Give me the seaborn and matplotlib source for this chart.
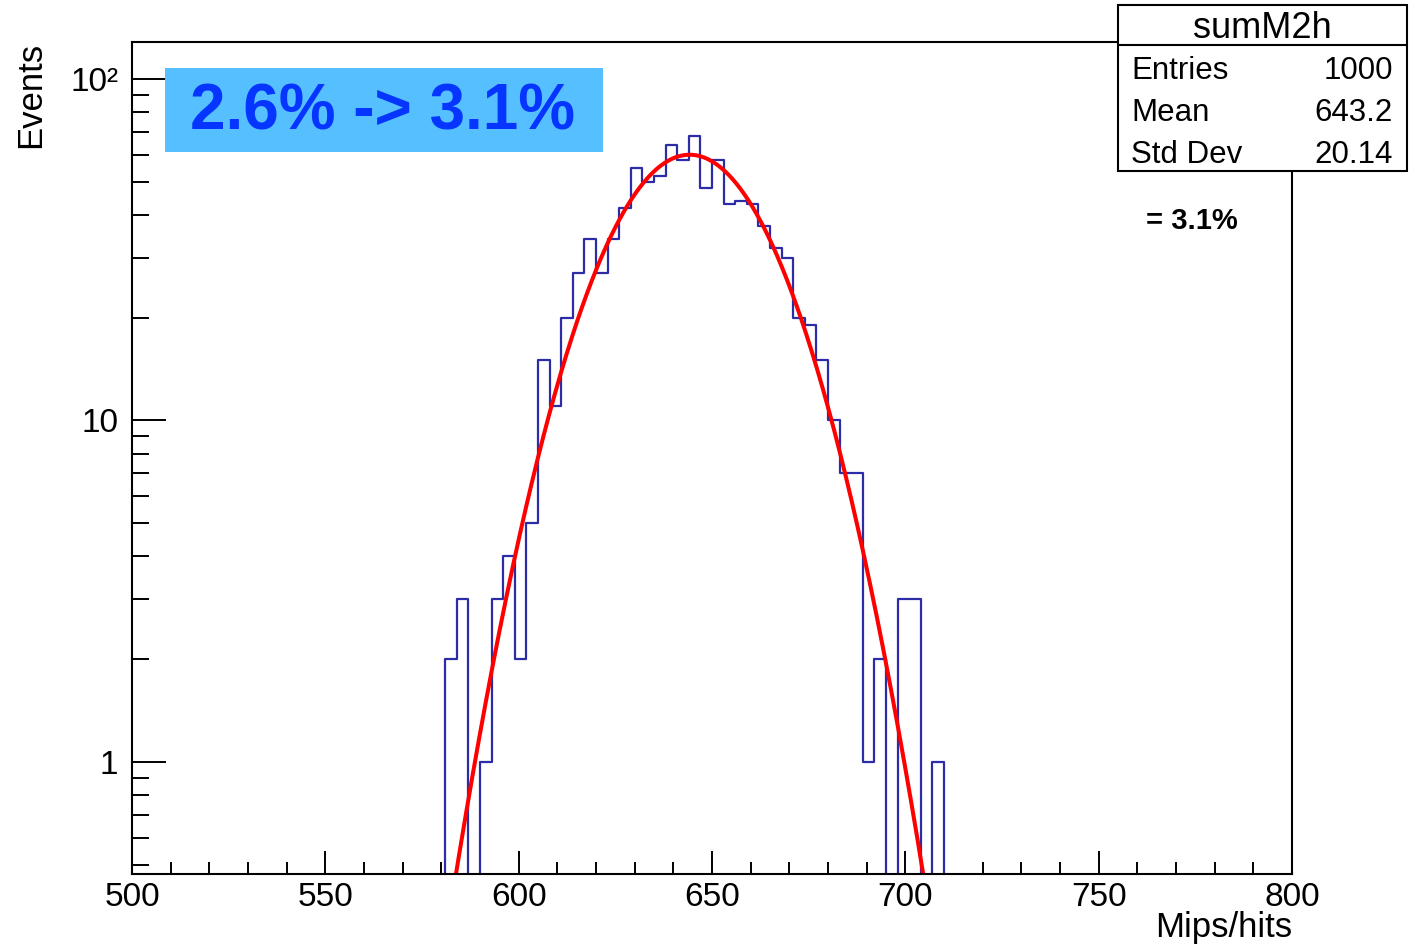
import numpy as np
import pandas as pd
import matplotlib
matplotlib.use("Agg")
import matplotlib.pyplot as plt
from matplotlib.patches import Rectangle
from matplotlib.lines import Line2D
from matplotlib.ticker import FixedLocator, FixedFormatter, MultipleLocator, LogLocator, NullFormatter
import seaborn as sns

# Histogram of summed mips per hit: 100 bins of width 3 from 500 to 800
bin_lo = 500.0
bin_hi = 800.0
n_bins = 100
first_filled_edge = 581.0
filled_counts = [
    2, 3, 0, 1, 3, 4, 2, 5, 15, 11,
    20, 27, 34, 27, 34, 42, 55, 50, 52, 64,
    58, 68, 48, 58, 43, 44, 43, 37, 32, 30,
    20, 19, 15, 10, 7, 7, 1, 2, 0, 3,
    3, 0, 1,
]

# Gaussian fit parameters
fit_const = 60.0
fit_mean = 644.2
fit_sigma = 19.4

# Statistics box
hist_name = "sumM2h"
stat_names = ["Entries", "Mean", "Std Dev"]
stat_values = ["1000", "643.2", "20.14"]
resolution_text = "= 3.1%"
banner_text = "2.6% -> 3.1%"

x_label = "Mips/hits"
y_label = "Events"
x_ticks = [500, 550, 600, 650, 700, 750, 800]
y_ticks = [1, 10, 100]
y_tick_labels = ["1", "10", "10²"]

# ---------------------------------------------------------------------------
edges = np.linspace(bin_lo, bin_hi, n_bins + 1)
width = edges[1] - edges[0]
counts = np.zeros(n_bins)
start = int(round((first_filled_edge - bin_lo) / width))
counts[start:start + len(filled_counts)] = filled_counts
centers = edges[:-1] + width / 2
hist_df = pd.DataFrame({"mips": centers, "n": counts})

xs = np.linspace(bin_lo, bin_hi, 1200)
fit_df = pd.DataFrame({"mips": xs,
                       "f": fit_const * np.exp(-0.5 * ((xs - fit_mean) / fit_sigma) ** 2)})

sns.set_style("ticks")
plt.rcParams["font.family"] = ["Liberation Sans", "DejaVu Sans"]
for key in ["text.color", "axes.labelcolor", "xtick.color", "ytick.color", "axes.edgecolor"]:
    plt.rcParams[key] = "black"

W, H = 1428, 948
fig = plt.figure(figsize=(W / 100, H / 100), dpi=100)
fig.patch.set_facecolor("white")

ax_l, ax_r, ax_t, ax_b = 132, 1292, 42, 874
ax = fig.add_axes([ax_l / W, 1 - ax_b / H, (ax_r - ax_l) / W, (ax_b - ax_t) / H])

sns.histplot(data=hist_df, x="mips", weights="n", binwidth=width, binrange=(bin_lo, bin_hi),
             element="step", fill=False, color="#2c2ca6", linewidth=1.6, ax=ax)

sns.lineplot(data=fit_df, x="mips", y="f", color="#ff0000", linewidth=2.9, ax=ax,
             estimator=None, sort=False)

ax.set_yscale("log")
ax.set_xlim(bin_lo, bin_hi)
ax.set_ylim(0.47, 128.3)

ax.xaxis.set_major_locator(FixedLocator(x_ticks))
ax.xaxis.set_minor_locator(MultipleLocator(10))
ax.yaxis.set_major_locator(FixedLocator(y_ticks))
ax.yaxis.set_major_formatter(FixedFormatter(y_tick_labels))
ax.yaxis.set_minor_locator(LogLocator(base=10, subs=np.arange(2, 10)))
ax.yaxis.set_minor_formatter(NullFormatter())

ax.tick_params(axis="both", which="both", direction="in", top=False, right=False,
               colors="black", width=1.4)
ax.tick_params(axis="x", which="major", length=16.5, pad=6, labelsize=24)
ax.tick_params(axis="x", which="minor", length=9)
ax.tick_params(axis="y", which="major", length=24.5, pad=10, labelsize=24)
ax.tick_params(axis="y", which="minor", length=12)

for s in ax.spines.values():
    s.set_linewidth(1.5)
    s.set_color("black")

ax.set_xlabel(x_label, fontsize=25, loc="right")
ax.xaxis.set_label_coords(1.0, -0.045)
ax.set_ylabel(y_label, fontsize=25, loc="top")
ax.yaxis.set_label_coords(-(ax_l - 47) / (ax_r - ax_l), 1.0)


def fx(px):
    return px / W


def fy(py):
    return 1 - py / H


# Statistics box
bx0, by0, bx1, by1 = 1118, 5, 1407, 171
fig.patches.append(Rectangle((fx(bx0), fy(by1)), fx(bx1) - fx(bx0), fy(by0) - fy(by1),
                             transform=fig.transFigure, facecolor="white",
                             edgecolor="black", linewidth=1.5, zorder=5))
fig.lines.append(Line2D([fx(bx0), fx(bx1)], [fy(45), fy(45)], transform=fig.transFigure,
                        color="black", linewidth=1.5, zorder=6))
fig.text(fx((bx0 + bx1) / 2), fy(28), hist_name, fontsize=26, ha="center", va="center", zorder=7)
for name, val, yc in zip(stat_names, stat_values, [71, 113, 155]):
    fig.text(fx(1131), fy(yc), name, fontsize=22.5, ha="left", va="center", zorder=7)
    fig.text(fx(1393), fy(yc), val, fontsize=22.5, ha="right", va="center", zorder=7)

fig.text(fx(1146), fy(221), resolution_text, fontsize=21, fontweight="bold",
         ha="left", va="center", zorder=7)

# Highlighted banner
fig.patches.append(Rectangle((fx(165), fy(152)), fx(603) - fx(165), fy(68) - fy(152),
                             transform=fig.transFigure, facecolor="#56bfff",
                             edgecolor="none", zorder=5))
fig.text(fx(383), fy(113), banner_text, fontsize=46, fontweight="bold", color="#0535ff",
         ha="center", va="center", zorder=7)

fig.savefig("out.png", dpi=100, facecolor="white")
